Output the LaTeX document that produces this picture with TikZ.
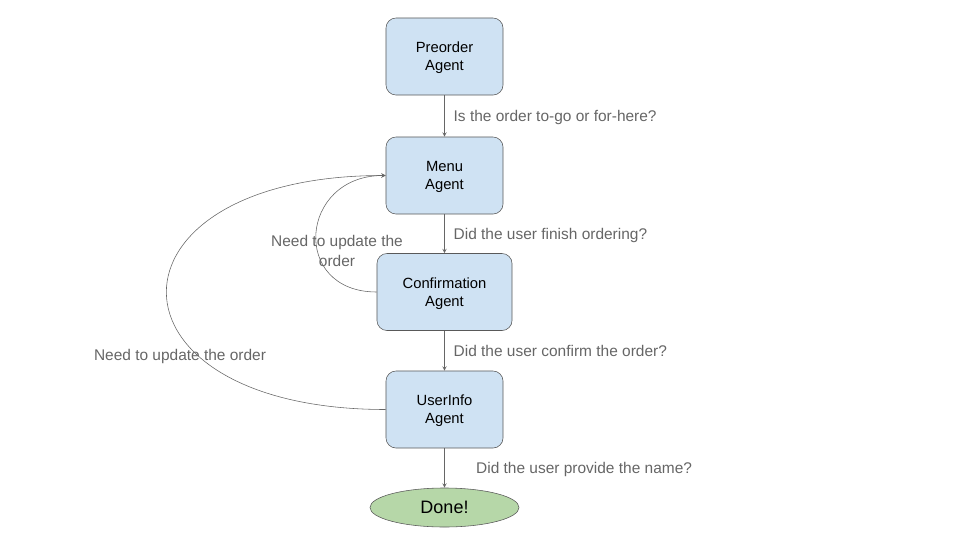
\documentclass[tikz,border=0pt]{standalone}
\usepackage{fontspec}
\setmainfont{Liberation Sans}
\usetikzlibrary{shapes.geometric}

\definecolor{agentfill}{HTML}{CFE2F3}
\definecolor{donefill}{HTML}{B6D7A8}
\definecolor{edgegray}{HTML}{666666}
\definecolor{bordergray}{HTML}{595959}

\begin{document}
\begin{tikzpicture}[x=0.025cm,y=-0.025cm,->,>=stealth,semithick,
  agent/.style={draw=bordergray, fill=agentfill, rounded corners=0.25cm, thin, minimum width=2.925cm, minimum height=1.925cm, align=center, text depth=0pt, font=\fontsize{10.5}{12.7}\selectfont},
  done/.style={draw=bordergray, fill=donefill, ellipse, thin, minimum width=3.725cm, minimum height=0.975cm, inner sep=0pt, font=\fontsize{12.8}{14}\selectfont},
  flow/.style={draw=edgegray, thin},
  question/.style={text=edgegray, font=\fontsize{11}{13}\selectfont, text depth=0pt, anchor=west}]
\useasboundingbox (0,0) rectangle (960,540);
\node[agent] (preorder) at (444.5,56.5) {Preorder\\Agent};
\node[agent] (menu) at (444.5,175.5) {Menu\\Agent};
\node[agent, minimum width=3.375cm] (confirm) at (444.5,292) {Confirmation\\Agent};
\node[agent] (userinfo) at (444.5,409.5) {UserInfo\\Agent};
\node[done] (done) at (444.5,507.5) {Done!};
\path (preorder) edge[flow] node[question, midway, xshift=3pt] {Is the order to-go or for-here?} (menu);
\path (menu) edge[flow] node[question, midway, xshift=3pt] {Did the user finish ordering?} (confirm);
\path (confirm) edge[flow] node[question, midway, xshift=3pt] {Did the user confirm the order?} (userinfo);
\path (userinfo) edge[flow] node[question, midway, xshift=19pt] {Did the user provide the name?} (done);
\path (confirm.west) edge[flow, out=180, in=180, looseness=1.9] (menu.west);
\path (userinfo.west) edge[flow, out=180, in=180, looseness=3.2] (menu.west);
\node[text=edgegray, align=center, font=\fontsize{11}{14}\selectfont] (innerlabel) at (337,251) {Need to update the\\order};
\node[text=edgegray, font=\fontsize{11}{13}\selectfont] (outerlabel) at (180,356) {Need to update the order};
\end{tikzpicture}
\end{document}
